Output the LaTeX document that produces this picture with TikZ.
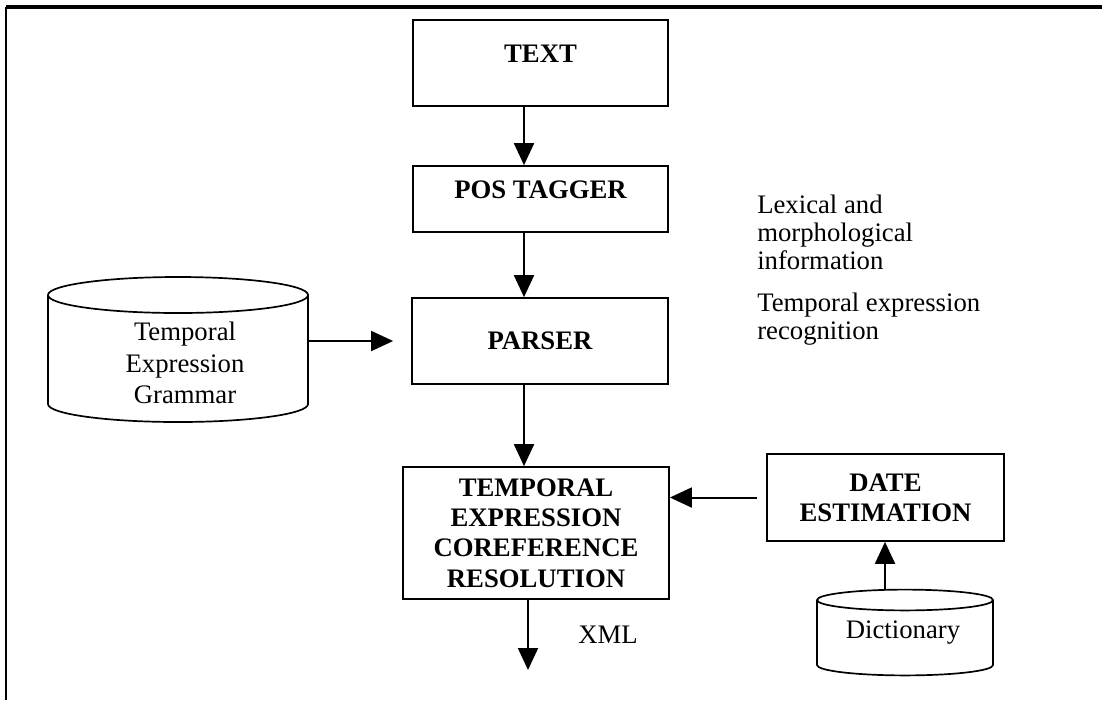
\documentclass[tikz,border=0pt]{standalone}
\usepackage{fontspec}
\setmainfont{Liberation Serif}
\usetikzlibrary{arrows.meta}

\begin{document}
\begin{tikzpicture}[x=0.025cm,y=-0.025cm,
  box/.style={draw,line width=1.2pt,inner sep=0pt,align=center,font=\fontsize{19}{21.5}\selectfont\bfseries},
  note/.style={align=left,anchor=west,inner sep=0pt,font=\fontsize{19}{20}\selectfont},
  arr/.style={line width=1.4pt,-{Triangle[length=0.55cm,width=0.5cm]}}]
  \useasboundingbox (0,0) rectangle (1102,700);
  % frame
  \draw[line width=2.6pt] (6,7) -- (1102,7);
  \draw[line width=1.7pt] (6,700) -- (6,7);
  % boxes
  \node[box,minimum width=6.375cm,minimum height=2.15cm,text depth=0.45cm] (text) at (540.5,63) {TEXT};
  \node[box,minimum width=6.375cm,minimum height=1.65cm,text depth=0.45cm] (pos) at (540.5,199) {POS TAGGER};
  \node[box,minimum width=6.4cm,minimum height=2.15cm] (parser) at (540,341) {PARSER};
  \node[box,minimum width=6.65cm,minimum height=3.3cm] (temporal) at (536,533) {TEMPORAL\\EXPRESSION\\COREFERENCE\\RESOLUTION};
  \node[box,minimum width=5.925cm,minimum height=2.175cm] (date) at (885.5,497.5) {DATE\\ESTIMATION};
  % cylinders
  \draw[line width=1.2pt] (48,295) -- (48,404) arc[start angle=180,end angle=360,x radius=3.25cm,y radius=0.45cm] -- (308,295);
  \draw[line width=1.2pt] (178,295) ellipse[x radius=3.25cm,y radius=0.45cm];
  \draw[line width=1.2pt] (817,600) -- (817,665) arc[start angle=180,end angle=360,x radius=2.2cm,y radius=0.26cm] -- (993,600);
  \draw[line width=1.2pt] (905,600) ellipse[x radius=2.2cm,y radius=0.26cm];
  \node[align=center,inner sep=0pt,font=\fontsize{19}{22.5}\selectfont] (grammar) at (185,363) {Temporal\\Expression\\Grammar};
  \node[inner sep=0pt,font=\fontsize{19}{20}\selectfont] (dict) at (903,633) {Dictionary};
  % notes
  \node[note] (lexinfo) at (757,232) {Lexical and\\morphological\\information};
  \node[note] (recog) at (757,319) {Temporal expression\\recognition};
  \node[note] (xml) at (578,635) {XML};
  % connectors
  \coordinate (axis) at (524,0);
  \coordinate (gramR) at (308,341);
  \coordinate (dictTop) at (885,590);
  \coordinate (xmlEnd) at (528,670);
  \draw[arr] (text.south -| axis) -- (pos.north -| axis);
  \draw[arr] (pos.south -| axis) -- (parser.north -| axis);
  \draw[arr] (parser.south -| axis) -- (temporal.north -| axis);
  \draw[arr] (gramR) -- ([xshift=-0.45cm]parser.west);
  \draw[arr] ([xshift=-0.225cm]date.west) -- (temporal.east |- date.west);
  \draw[arr] (dictTop) -- (date.south -| dictTop);
  \draw[arr] (temporal.south -| xmlEnd) -- (xmlEnd);
\end{tikzpicture}
\end{document}
